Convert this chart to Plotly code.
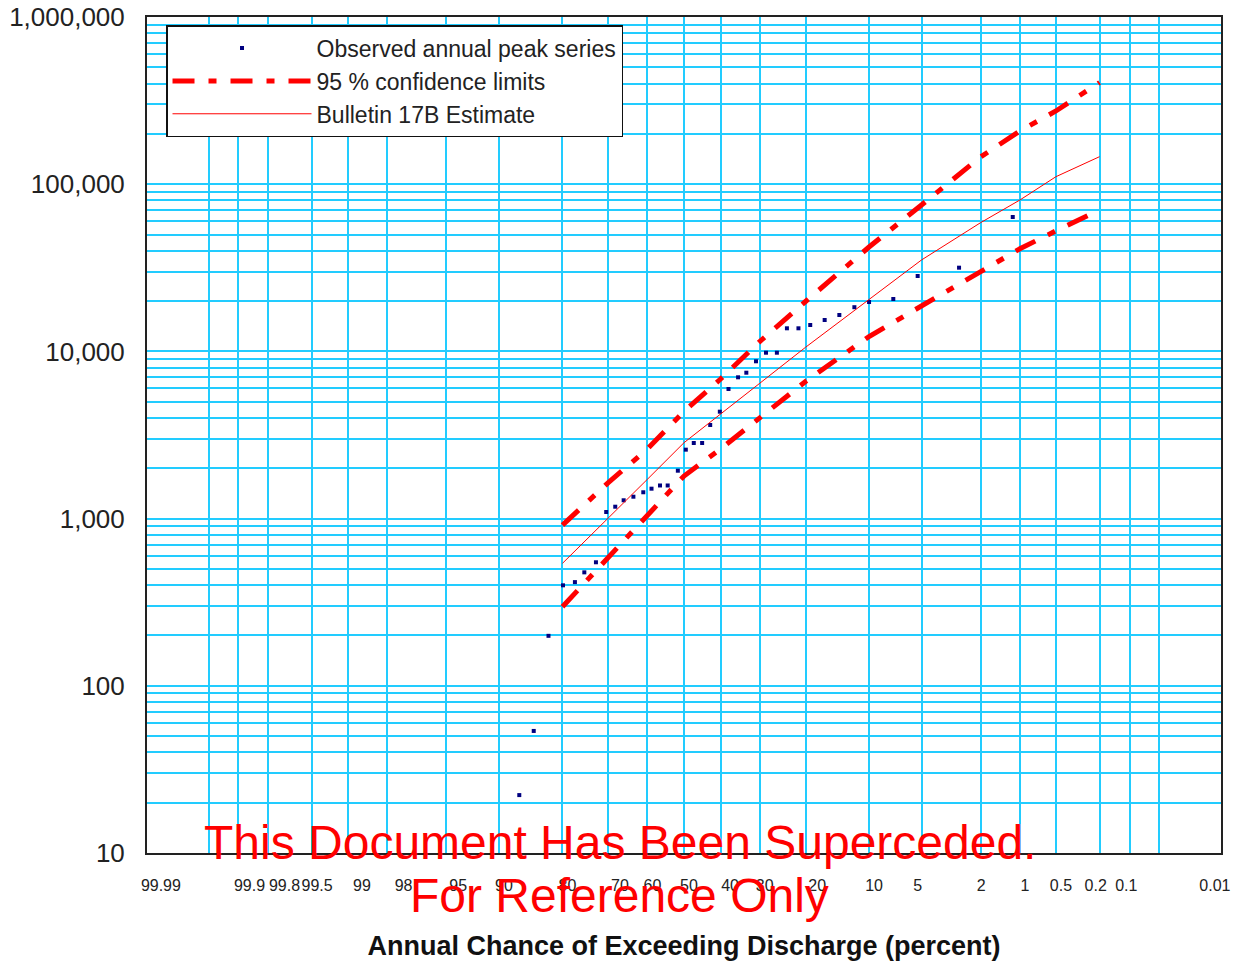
from statistics import NormalDist
import plotly.graph_objects as go

# ---------------- data ----------------
# Observed annual peak series: exceedance probability (%) and discharge
obs_pct = [87.3, 85.1, 82.6, 79.9, 77.5, 75.5, 72.9, 70.5, 68.3, 66.2, 63.7, 61.1,
           58.9, 56.6, 54.5, 51.7, 49.5, 47.3, 45.0, 42.8, 40.2, 37.9, 35.4, 33.3,
           30.9, 28.5, 26.0, 23.8, 21.4, 19.1, 16.5, 14.1, 11.9, 10.0, 7.36, 5.28,
           2.84, 1.14]
obs_q = [22.2, 53.7, 199, 399, 417, 477, 548, 1095, 1178, 1287, 1352, 1437,
         1510, 1578, 1578, 1934, 2584, 2833, 2833, 3629, 4359, 5959, 7000, 7458,
         8727, 9822, 9822, 13746, 13746, 14385, 15410, 16510, 18380, 19750, 20580, 28250,
         31670, 63650]

# Bulletin 17B frequency curve and 95 % confidence limits
curve_pct = [80, 70, 60, 50, 40, 30, 20, 10, 5, 2, 1, 0.5, 0.2]
est_q = [540, 1004, 1719, 2844, 4246, 6445, 10580, 20490, 35220, 58850, 80450, 110900, 146100]
upper_q = [915, 1642, 2609, 4370, 6838, 11460, 19880, 42110, 75090, 145500, 208100, 274100, 405900]
lower_q = [297, 588, 1029, 1798, 2609, 3996, 6607, 12280, 18690, 30140, 41100, 52600, 70110]

# Axis labels
x_grid_pct = [99.99, 99.95, 99.9, 99.8, 99.5, 99, 98, 95, 90, 80, 70, 60, 50, 40, 30,
              20, 10, 5, 2, 1, 0.5, 0.2, 0.1, 0.05, 0.01]
x_grid_text = ["99.99", "", "99.9", "99.8", "99.5", "99", "98", "95", "90", "80", "70",
               "60", "50", "40", "30", "20", "10", "5", "2", "1", "0.5", "0.2", "0.1",
               "", "0.01"]
y_decades = [10, 100, 1000, 10000, 100000, 1000000]
y_decade_text = ["10", "100", "1,000", "10,000", "100,000", "1,000,000"]

# --------------- helpers ---------------
nd = NormalDist()


def z(p):
    return nd.inv_cdf(1 - p / 100.0)


# small per-label nudges (in non-breaking spaces; + = right, - = left)
label_nudge = {"99.99": 4, "99.9": 3, "99.8": 5, "99": 4, "98": 5, "95": 3,
               "70": 3, "40": 2, "20": 3, "5": -4, "2": -2, "0.2": -4, "0.1": -4,
               "0.01": -5}
NB = "\u00a0"


def nudge(t):
    n = label_nudge.get(t, 0)
    return NB * n + t if n > 0 else t + NB * (-n)


x_ticktext = [nudge(t) for t in x_grid_text]

y_vals, y_text = [], []
for d, t in zip(y_decades, y_decade_text):
    y_vals.append(d)
    y_text.append(t)
    if d < 1000000:
        for k in range(2, 10):
            y_vals.append(d * k)
            y_text.append("")

GRID = "#22CCFF"
RED = "#FF0000"
FONT = "Liberation Sans, Arial, sans-serif"

fig = go.Figure()

fig.add_trace(go.Scatter(
    x=[z(p) for p in obs_pct], y=obs_q, mode="markers",
    marker=dict(symbol="square", size=4, color="#000080"),
    name="Observed annual peak series", legendgroup="a"))

fig.add_trace(go.Scatter(
    x=[z(p) for p in curve_pct], y=upper_q, mode="lines",
    line=dict(color=RED, width=5, dash="22px,14px,8px,14px"),
    name="95 % confidence limits", legendgroup="b"))
fig.add_trace(go.Scatter(
    x=[z(p) for p in curve_pct], y=lower_q, mode="lines",
    line=dict(color=RED, width=5, dash="22px,14px,8px,14px"),
    name="95 % confidence limits", legendgroup="b", showlegend=False))

fig.add_trace(go.Scatter(
    x=[z(p) for p in curve_pct], y=est_q, mode="lines",
    line=dict(color=RED, width=1),
    name="Bulletin 17B Estimate", legendgroup="c"))

fig.update_layout(
    width=1241, height=963,
    margin=dict(l=147, r=20, t=17, b=110),
    paper_bgcolor="white", plot_bgcolor="white",
    font=dict(family=FONT, color="#222"),
    showlegend=True,
    legend=dict(
        x=0.0177, y=0.9904, xanchor="left", yanchor="top",
        bgcolor="white", bordercolor="#111", borderwidth=1.5,
        font=dict(size=23, color="#222"),
        traceorder="grouped", tracegroupgap=0, itemwidth=139,
    ),
    xaxis=dict(
        range=[z(99.99) - 1e-6, z(0.01) + 1e-6], automargin=False,
        tickmode="array", tickvals=[z(p) for p in x_grid_pct], ticktext=x_ticktext,
        showgrid=True, gridcolor=GRID, gridwidth=2, tickangle=0,
        zeroline=False, ticks="", ticklabelstandoff=17, ticklabelshift=5,
        ticklabeloverflow="allow",
        tickfont=dict(size=16, color="#222"),
        showline=True, linecolor="#222", linewidth=2, mirror=True,
        title=dict(text="<b>Annual Chance of Exceeding Discharge (percent)</b>",
                   font=dict(size=27, color="#111"), standoff=43),
    ),
    yaxis=dict(
        type="log", range=[1 - 1e-6, 6 + 1e-6], automargin=False,
        tickmode="array", tickvals=y_vals, ticktext=y_text,
        showgrid=True, gridcolor=GRID, gridwidth=2,
        zeroline=False, ticks="", ticklabelstandoff=15,
        ticklabeloverflow="allow",
        tickfont=dict(size=26, color="#222"),
        showline=True, linecolor="#222", linewidth=2, mirror=True,
    ),
)

fig.add_annotation(text="This Document Has Been Superceded.", xref="paper", yref="paper",
                   x=0.4404, y=0.0131, xanchor="center", yanchor="middle", showarrow=False,
                   font=dict(size=48, color=RED, family=FONT))
fig.add_annotation(text="For Reference Only", xref="paper", yref="paper",
                   x=0.4404, y=-0.0514, xanchor="center", yanchor="middle", showarrow=False,
                   font=dict(size=48, color=RED, family=FONT))

fig.write_html(
    "out.html",
    config={"displayModeBar": False},
    post_script="document.body.style.margin='0';document.body.style.overflow='hidden';",
)
